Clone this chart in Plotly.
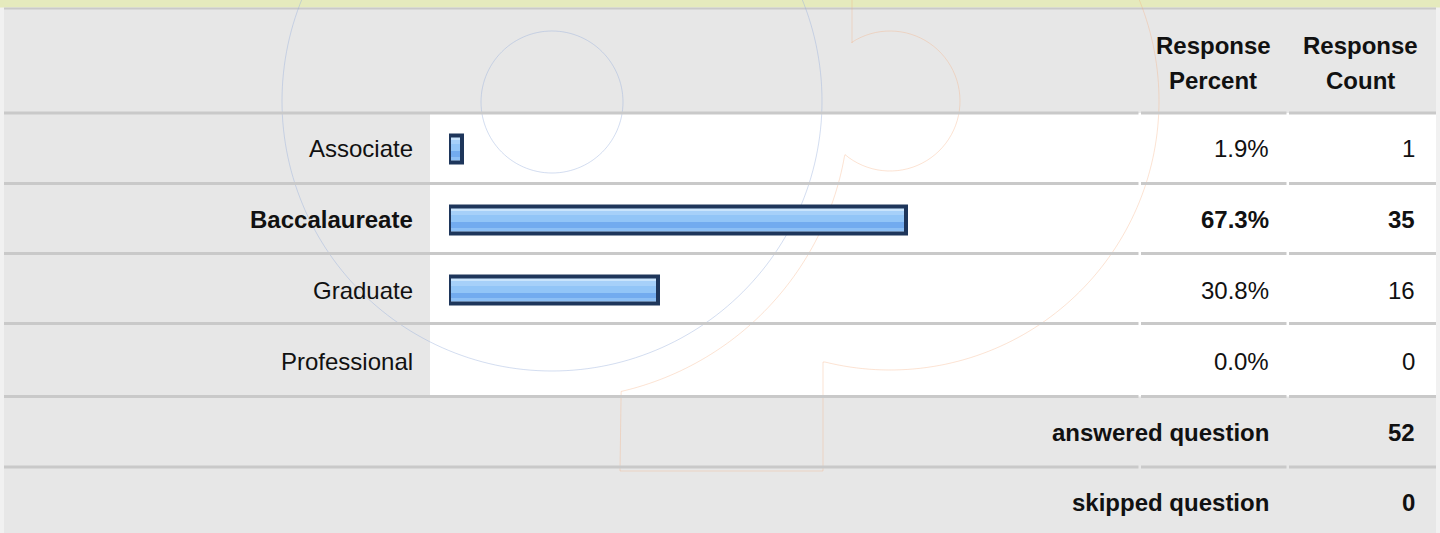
import math
import plotly.graph_objects as go

# ---- survey data -------------------------------------------------------
categories = ["Associate", "Baccalaureate", "Graduate", "Professional"]
response_percent = [1.9, 67.3, 30.8, 0.0]
response_count = [1, 35, 16, 0]
answered_question = 52
skipped_question = 0
header_percent = ["Response", "Percent"]
header_count = ["Response", "Count"]

# ---- page geometry (pixels) --------------------------------------------
W, H = 1440, 533
FONT = "Liberation Sans, Arial, Helvetica, sans-serif"
TEXT = "#111111"
GRID = "#c9c9c9"
CELL_GRAY = "#e7e7e7"


def px(x):
    return x / W


def py(y):
    return 1 - y / H


def rect(x0, y0, x1, y1, color, layer="below"):
    return dict(type="rect", xref="paper", yref="paper",
                x0=px(x0), x1=px(x1), y0=py(y1), y1=py(y0),
                fillcolor=color, line=dict(width=0), layer=layer)


def arc_path(cx, cy, r, a0, a1, steps=60):
    pts = []
    for i in range(steps + 1):
        a = math.radians(a0 + (a1 - a0) * i / steps)
        pts.append((cx + r * math.cos(a), cy + r * math.sin(a)))
    return pts


def to_path(pts):
    return "M" + " L".join(f"{px(x):.5f},{py(y):.5f}" for x, y in pts)


shapes = []
# page background, header band, table body
shapes.append(rect(0, 0, W, H, "#f1f1f1"))
shapes.append(rect(4, 8, 1436, H, CELL_GRAY))
shapes.append(rect(0, 0, W, 7.5, "#e5eabd"))
shapes.append(rect(4, 7.5, 1436, 9.5, GRID))

# white value cells of the answer rows
row_lines = [113, 183.5, 253.5, 323.5, 396.5, 467]
shapes.append(rect(430, row_lines[0], 1436, row_lines[4], "#ffffff"))

# faint logo watermark
blue = "rgba(150,175,220,0.42)"
orange = "rgba(245,170,120,0.33)"
shapes.append(dict(type="path", xref="paper", yref="paper",
                   path=to_path(arc_path(552, 101, 270, 0, 360, 240)),
                   line=dict(color=blue, width=1), layer="below"))
shapes.append(dict(type="path", xref="paper", yref="paper",
                   path=to_path(arc_path(552, 102, 71, 0, 360, 120)),
                   line=dict(color=blue, width=1), layer="below"))
p_outline = [(852, -5), (852, 43)]
p_outline += arc_path(890, 101, 70, -123, 130)
p_outline += arc_path(555, 105, 294, 10, 77)
p_outline += [(620, 471), (823, 471), (823, 362)]
p_outline += arc_path(890, 101, 269, 104, -60, 120)
shapes.append(dict(type="path", xref="paper", yref="paper",
                   path=to_path(p_outline),
                   line=dict(color=orange, width=1), layer="below"))

# row separators, split at the column borders
segments = [(4, 1138.5), (1141, 1286.5), (1289, 1436)]
for yl in row_lines:
    for x0, x1 in segments:
        shapes.append(rect(x0, yl - 1.5, x1, yl + 1.5, GRID))

# ---- bars ------------------------------------------------------------
ROW_PX = (396.5 - 113.5) / len(categories)
BAR_PX = 27            # centre-line thickness of the outlined bar
bar_w = BAR_PX / ROW_PX

# horizontal gloss stripes (top to bottom) inside each bar
stripes = [
    (-13.5, -9.5, "#c9e4fc"),
    (-9.5, -5.0, "#a6d0f9"),
    (-5.0, 2.0, "#92c5f7"),
    (2.0, 7.5, "#72abef"),
    (7.5, 10.5, "#8cbff5"),
    (10.5, 13.5, "#b3d7fa"),
]

# empty answers get no outline at all
outline_widths = [4 if v > 0 else 0 for v in response_percent]

fig = go.Figure()
for top, bot, color in stripes:
    fig.add_trace(go.Bar(
        x=response_percent, y=categories, orientation="h",
        base=0, width=(bot - top) / ROW_PX, offset=top / ROW_PX,
        marker=dict(color=color, line=dict(width=0)),
        hoverinfo="skip", showlegend=False,
    ))
fig.add_trace(go.Bar(
    x=response_percent, y=categories, orientation="h",
    base=0, width=bar_w, offset=-bar_w / 2,
    marker=dict(color="rgba(0,0,0,0)",
                line=dict(color="#1e365b", width=outline_widths)),
    hovertemplate="%{y}: %{x}%<extra></extra>", showlegend=False,
))

# ---- text ------------------------------------------------------------
annotations = []
top_idx = response_percent.index(max(response_percent))


def note(text, x, y, xanchor, yref="paper", bold=False, size=24):
    t = f"<b>{text}</b>" if bold else text
    annotations.append(dict(
        text=t, x=x, y=y, xref="paper", yref=yref, xanchor=xanchor,
        yanchor="middle", showarrow=False,
        font=dict(family=FONT, size=size, color=TEXT)))


for i, cat in enumerate(categories):
    b = i == top_idx
    note(cat, px(415), cat, "right", yref="y", bold=b)
    note(f"{response_percent[i]:.1f}%", px(1271), cat, "right", yref="y", bold=b)
    note(str(response_count[i]), px(1417), cat, "right", yref="y", bold=b)

for k, line in enumerate(header_percent):
    note(line, px(1213), py(46 + 34 * k), "center", bold=True)
for k, line in enumerate(header_count):
    note(line, px(1360), py(46 + 34 * k), "center", bold=True)

note("answered question", px(1271), py(432), "right", bold=True)
note(str(answered_question), px(1417), py(432), "right", bold=True)
note("skipped question", px(1271), py(502), "right", bold=True)
note(str(skipped_question), px(1417), py(502), "right", bold=True)

fig.update_layout(
    width=W, height=H, margin=dict(l=0, r=0, t=0, b=0),
    paper_bgcolor="#f1f1f1", plot_bgcolor="rgba(0,0,0,0)",
    barmode="overlay", bargap=0,
    shapes=shapes, annotations=annotations,
    xaxis=dict(domain=[px(449), px(1128.5)], range=[0, 100],
               visible=False, fixedrange=True),
    yaxis=dict(domain=[py(396.5), py(113.5)], type="category",
               categoryorder="array", categoryarray=categories,
               range=[len(categories) - 0.5, -0.5],
               visible=False, fixedrange=True),
    font=dict(family=FONT),
)

fig.write_html("out.html", config={"displayModeBar": False})
